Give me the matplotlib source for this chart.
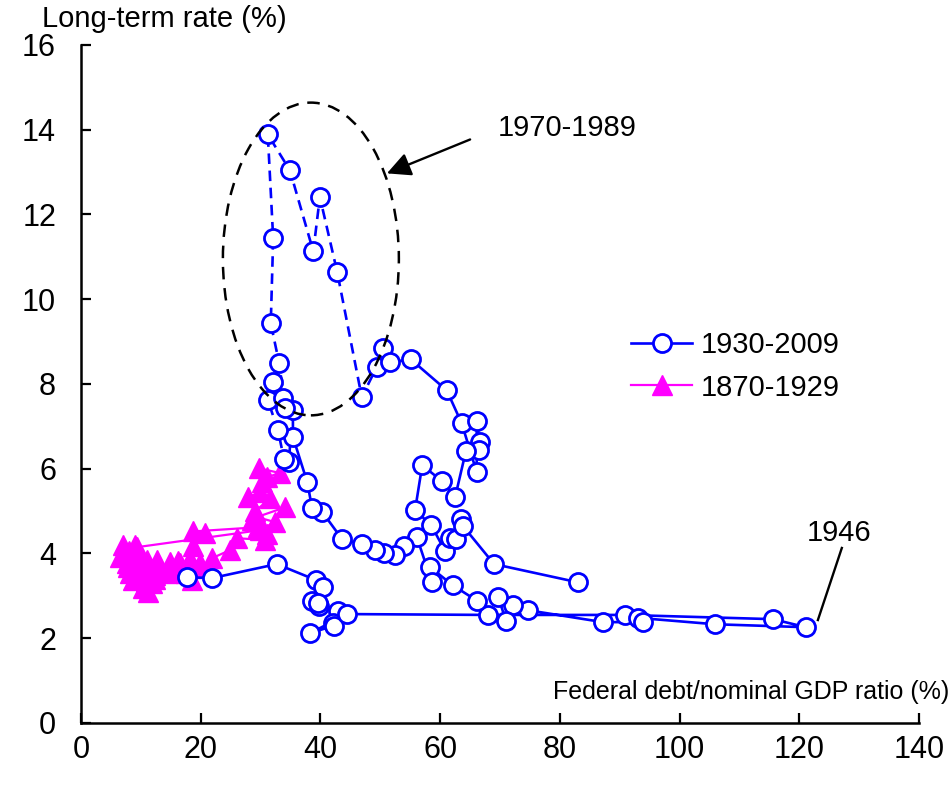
import matplotlib
matplotlib.use("Agg")
import matplotlib.pyplot as plt
from matplotlib.patches import Ellipse

plt.rcParams['font.family'] = ['Liberation Sans', 'DejaVu Sans']

# 1930-2009: federal debt / nominal GDP (%) and long-term rate (%)
years_new = list(range(1930, 2010))
debt_new = [17.7, 21.9, 32.7, 39.3, 40.4, 38.6, 39.8, 39.6, 42.9, 42.1,
            42.3, 38.3, 44.4, 68.0, 90.9, 115.6, 121.1, 105.9, 93.1, 93.9,
            87.2, 74.7, 72.2, 69.7, 71.0, 66.2, 62.1, 58.3, 58.6, 56.1,
            54.0, 52.5, 50.6, 49.1, 46.9, 43.6, 40.3, 38.6, 37.8, 35.4,
            35.4, 34.7, 33.9, 32.9, 31.2, 32.1, 33.7, 34.1, 33.1, 31.7,
            32.1, 31.2, 34.9, 38.8, 39.9, 42.8, 46.9, 49.4, 50.5, 51.6,
            55.1, 61.1, 63.6, 66.1, 66.1, 66.6, 66.5, 64.3, 62.5, 60.3,
            57.0, 55.8, 58.5, 60.8, 61.6, 62.6, 63.5, 63.8, 69.0, 83.0]
rate_new = [3.44, 3.42, 3.75, 3.37, 3.21, 2.88, 2.76, 2.83, 2.64, 2.36,
            2.30, 2.12, 2.57, 2.55, 2.55, 2.45, 2.26, 2.33, 2.48, 2.38,
            2.38, 2.66, 2.78, 2.97, 2.41, 2.88, 3.25, 3.68, 3.32, 4.39,
            4.17, 3.96, 4.01, 4.08, 4.22, 4.34, 4.98, 5.07, 5.68, 6.75,
            7.38, 6.16, 6.23, 6.91, 7.62, 8.04, 7.67, 7.43, 8.49, 9.43,
            11.44, 13.89, 13.04, 11.13, 12.41, 10.64, 7.69, 8.40, 8.84, 8.51,
            8.58, 7.85, 7.07, 5.92, 7.12, 6.63, 6.44, 6.42, 5.33, 5.71,
            6.08, 5.02, 4.67, 4.06, 4.36, 4.34, 4.81, 4.65, 3.75, 3.32]

# 1870-1929
years_old = list(range(1870, 1930))
debt_old = [29.7, 33.2, 31.1, 30.2, 29.9, 27.9, 31.6, 29.1, 28.6, 29.6,
            18.7, 20.7, 18.7, 18.2, 19.9, 16.5, 14.9, 16.2, 15.7, 14.4,
            12.9, 12.7, 11.0, 11.2, 13.2, 12.4, 10.4, 9.4, 7.9, 8.2,
            8.7, 10.4, 11.2, 11.8, 12.4, 10.8, 9.6, 8.6, 7.7, 6.5,
            7.4, 8.4, 7.0, 8.0, 9.0, 9.4, 9.4, 29.9, 32.4, 29.4,
            34.1, 31.0, 30.7, 26.1, 24.9, 21.9, 19.9, 18.5, 17.5, 16.0]
rate_old = [6.01, 5.90, 5.80, 5.68, 5.45, 5.33, 5.30, 5.00, 4.80, 4.62,
            4.52, 4.48, 4.18, 3.88, 3.78, 3.77, 3.80, 3.82, 3.56, 3.54,
            3.73, 3.84, 3.84, 3.56, 3.60, 3.50, 3.60, 3.70, 3.68, 3.54,
            3.37, 3.18, 3.09, 3.30, 3.40, 3.36, 3.44, 3.62, 3.78, 3.92,
            3.98, 3.90, 4.20, 4.05, 4.20, 4.02, 4.15, 4.55, 4.74, 4.86,
            5.09, 4.45, 4.32, 4.36, 4.08, 3.89, 3.65, 3.37, 3.54, 3.68]

BLUE = '#0000FF'
PINK = '#FF00FF'

fig = plt.figure(figsize=(9.51, 7.85), dpi=100)
ax = fig.add_axes([0.0852, 0.079, 0.8812, 0.8637])

# 1870-1929 series
ax.plot(debt_old, rate_old, color=PINK, lw=1.6, marker='^', ms=14,
        mfc=PINK, mec=PINK, zorder=3, label='1870-1929')

# 1930-2009 series, 1970-1989 drawn dashed
i70 = years_new.index(1970)
i89 = years_new.index(1989)
ax.plot(debt_new[:i70 + 1], rate_new[:i70 + 1], color=BLUE, lw=1.9, zorder=4)
ax.plot(debt_new[i70:i89 + 1], rate_new[i70:i89 + 1], color=BLUE, lw=1.9,
        ls=(0, (4, 2.5)), zorder=4)
ax.plot(debt_new[i89:], rate_new[i89:], color=BLUE, lw=1.9, zorder=4)
ax.plot(debt_new, rate_new, ls='none', marker='o', ms=13, mfc='white',
        mec=BLUE, mew=2.0, zorder=5)

# legend handles
h_new, = ax.plot([], [], color=BLUE, lw=1.9, marker='o', ms=13, mfc='white',
                 mec=BLUE, mew=2.0, label='1930-2009')
h_old, = ax.plot([], [], color=PINK, lw=1.6, marker='^', ms=14, mfc=PINK,
                 mec=PINK, label='1870-1929')
ax.legend(handles=[h_new, h_old], loc='upper left', frameon=False,
          bbox_to_anchor=(631 / 951, 1 - 331 / 785), bbox_transform=fig.transFigure,
          fontsize=21, handlelength=2.1, handletextpad=0.3, labelspacing=0.5,
          borderpad=0, borderaxespad=0, numpoints=1)

# 1970-1989 highlight
ax.add_patch(Ellipse((38.4, 10.95), 29.4, 7.38, fill=False, ec='black',
                     lw=1.8, ls=(0, (5, 3.5)), zorder=6))
ax.annotate('', xy=(51.1, 12.97), xytext=(65.0, 13.77),
            arrowprops=dict(arrowstyle='-|>', color='black', lw=1.7,
                            mutation_scale=36, shrinkA=0, shrinkB=0))
ax.text(69.7, 14.03, '1970-1989', fontsize=21, ha='left', va='center')

ax.plot([127.1, 123.1], [4.13, 2.43], color='black', lw=1.7)
ax.text(126.6, 4.48, '1946', fontsize=21, ha='center', va='center')

ax.set_xlim(0, 140)
ax.set_ylim(0, 16)
ax.set_xticks(range(0, 141, 20))
ax.set_yticks(range(0, 17, 2))
for s in ['top', 'right']:
    ax.spines[s].set_visible(False)
for s in ['left', 'bottom']:
    ax.spines[s].set_linewidth(1.8)
ax.tick_params(direction='in', length=7, width=1.6, labelsize=22)
ax.tick_params(axis='y', pad=18)
ax.tick_params(axis='x', pad=9)

fig.text(42 / 951, 1 - 19 / 785, 'Long-term rate (%)', fontsize=21,
         ha='left', va='center')
fig.text(553 / 951, 1 - 692 / 785, 'Federal debt/nominal GDP ratio (%)',
         fontsize=18, ha='left', va='center')

fig.savefig('out.png', dpi=100)
